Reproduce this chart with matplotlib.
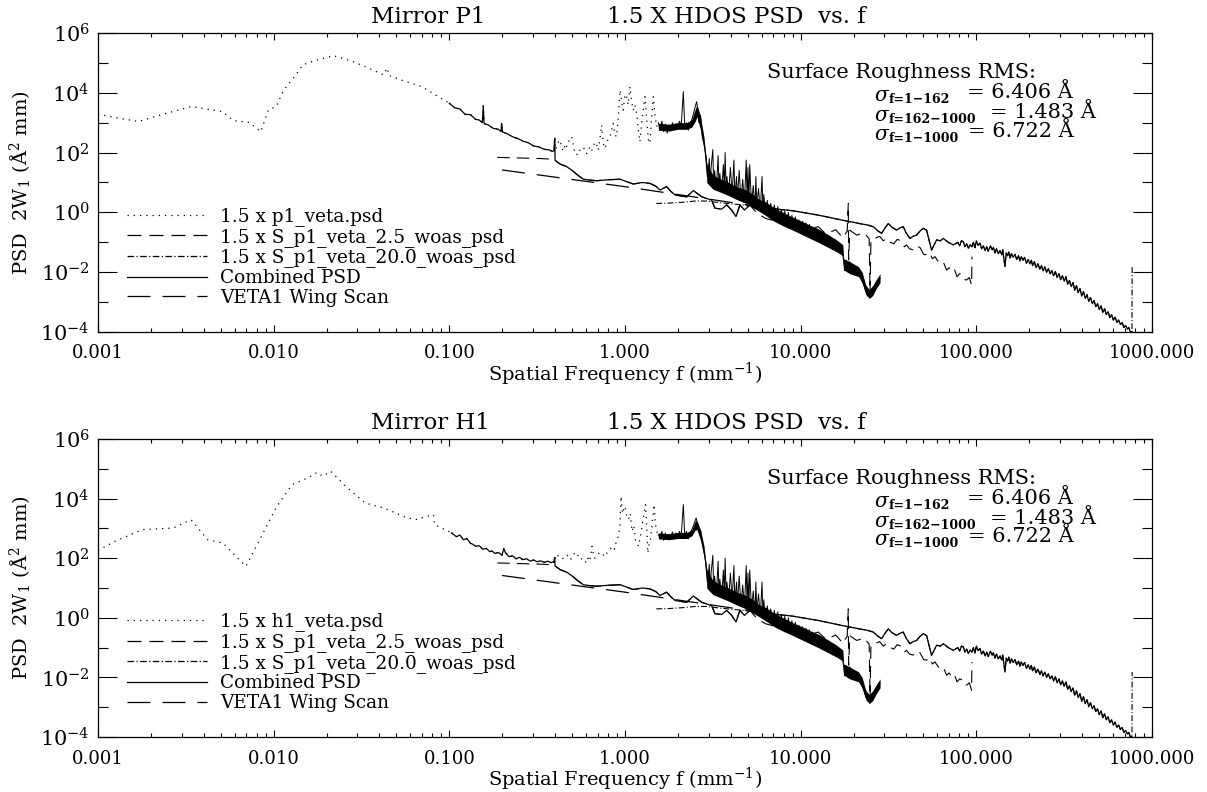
import numpy as np
import matplotlib
matplotlib.use('Agg')
import matplotlib.pyplot as plt
from matplotlib.lines import Line2D
from matplotlib.ticker import FixedLocator, FixedFormatter, NullFormatter, LogLocator

plt.rcParams['font.family'] = ['DejaVu Serif']
plt.rcParams['mathtext.fontset'] = 'dejavuserif'

# ---------------- data (log10 f, log10 PSD) ----------------
# Mirror P1 : 1.5 x p1_veta.psd
p1_low_logf = [-3.0, -2.88, -2.77, -2.62, -2.47, -2.29, -2.23, -2.14, -2.073, -2.03, -1.986, -1.942,
               -1.88, -1.833, -1.746, -1.659, -1.55, -1.45, -1.375, -1.353, -1.345, -1.26, -1.157, -1.08, -1.0]
p1_low_logpsd = [3.285, 3.15, 3.04, 3.30, 3.54, 3.37, 3.07, 3.01, 2.70, 3.43, 3.54, 4.10,
                 4.55, 4.94, 5.11, 5.24, 5.05, 4.80, 4.60, 4.83, 4.58, 4.40, 4.21, 3.93, 3.65]
p1_mid_logf = [-1.0, -0.97, -0.94, -0.91, -0.88, -0.85, -0.83, -0.812, -0.807, -0.802, -0.78, -0.75, -0.72,
               -0.706, -0.702, -0.697, -0.67, -0.64, -0.61, -0.58, -0.55, -0.52, -0.49, -0.46, -0.43,
               -0.415, -0.405, -0.400]
p1_mid_logpsd = [3.65, 3.50, 3.46, 3.28, 3.27, 3.11, 3.09, 3.00, 3.56, 2.97, 2.93, 2.81, 2.78,
                 2.70, 2.98, 2.69, 2.63, 2.53, 2.47, 2.38, 2.33, 2.22, 2.19, 2.11, 2.09,
                 2.04, 2.06, 2.48]
p1_peak_logf = [-0.400, -0.394, -0.388, -0.380, -0.370, -0.360, -0.350, -0.340, -0.332, -0.318, -0.303, -0.290,
                -0.275, -0.262, -0.247, -0.232, -0.218, -0.200, -0.190, -0.180, -0.166, -0.152, -0.142, -0.133,
                -0.124, -0.114, -0.100, -0.085, -0.076, -0.067, -0.058, -0.048, -0.038, -0.028, -0.019, -0.010,
                0.000, 0.009, 0.018, 0.028, 0.038, 0.047, 0.056, 0.066, 0.075, 0.085, 0.095, 0.105, 0.114,
                0.124, 0.133, 0.142, 0.152, 0.161, 0.170, 0.180, 0.19]
p1_peak_logpsd = [2.48, 2.10, 2.20, 2.35, 2.42, 2.15, 2.05, 2.30, 2.20, 2.40, 2.53, 2.10,
                  1.92, 2.10, 2.03, 2.15, 1.97, 2.18, 2.05, 2.25, 2.35, 2.08, 2.50, 2.92,
                  2.30, 2.14, 2.40, 2.53, 2.75, 2.98, 2.60, 2.53, 3.20, 4.09, 3.70, 3.42,
                  3.95, 3.87, 3.60, 4.20, 3.70, 3.42, 3.60, 3.31, 2.80, 2.36, 3.00, 3.50, 3.87,
                  3.10, 2.42, 2.31, 3.20, 3.87, 3.30, 2.87, 3.00]
p1_head_logf = [0.19, 0.20, 0.21, 0.22, 0.23, 0.24, 0.25, 0.26, 0.27, 0.28, 0.29, 0.30, 0.31, 0.32, 0.332,
                0.34, 0.35, 0.36, 0.37, 0.38, 0.39, 0.40, 0.408, 0.415, 0.42, 0.43, 0.44, 0.45, 0.46, 0.465]
p1_head_logpsd = [3.00, 2.75, 3.05, 2.70, 2.95, 2.65, 2.90, 2.75, 3.00, 2.80, 2.95, 2.85, 3.05, 2.90, 4.04,
                  2.85, 3.00, 2.75, 2.95, 3.10, 3.30, 3.55, 3.70, 3.40, 3.00, 3.25, 2.50, 2.30, 1.90, 1.64]
p1_band_logf = [0.19, 0.25, 0.30, 0.35, 0.38, 0.40, 0.41, 0.43, 0.45, 0.465]
p1_band_lo = [2.75, 2.72, 2.78, 2.78, 2.85, 3.05, 3.20, 2.75, 2.10, 1.10]
p1_band_hi = [2.98, 2.95, 3.00, 3.00, 3.10, 3.45, 3.60, 3.20, 2.50, 1.64]

# shared dense tail of the HDOS PSD (same in both panels)
tail_logf = [0.465, 0.47, 0.48, 0.485, 0.49, 0.50, 0.505, 0.51, 0.52, 0.53, 0.535, 0.54, 0.55, 0.56, 0.565,
             0.57, 0.575, 0.58, 0.59, 0.60, 0.61, 0.62, 0.625, 0.635, 0.64, 0.65, 0.66, 0.67, 0.68, 0.69,
             0.695, 0.70, 0.705, 0.71, 0.72, 0.73, 0.74, 0.745, 0.75, 0.76, 0.77, 0.78, 0.785, 0.79, 0.80,
             0.81, 0.82, 0.83, 0.84, 0.85, 0.86, 0.87, 0.88, 0.89, 0.90, 0.91, 0.92, 0.93, 0.94, 0.95,
             0.96, 0.97, 0.98, 0.99, 1.00, 1.01, 1.02, 1.03, 1.04, 1.05, 1.06, 1.07, 1.08, 1.09, 1.10,
             1.11, 1.12, 1.13, 1.14, 1.15, 1.16, 1.17, 1.18, 1.19, 1.20, 1.21, 1.22, 1.23, 1.24, 1.245,
             1.25, 1.26, 1.27, 1.28, 1.29, 1.30, 1.31, 1.32, 1.33, 1.34, 1.35, 1.36, 1.37, 1.38, 1.39,
             1.395, 1.40, 1.41, 1.42, 1.43, 1.44, 1.452]
tail_logpsd = [1.64, 1.20, 1.80, 0.90, 1.50, 2.10, 0.80, 1.40, 0.75, 1.90, 0.85, 1.30, 0.70, 1.60, 0.75,
               2.00, 0.90, 1.20, 0.65, 1.50, 0.60, 1.75, 0.55, 1.20, 0.45, 1.40, 0.40, 1.10, 0.35, 1.75,
               0.40, 1.50, 0.30, 1.60, 0.25, 0.90, 0.15, 1.20, 0.20, 0.80, 0.05, 1.20, 0.10, 0.60, -0.05,
               0.40, -0.15, 0.30, -0.20, 0.25, -0.25, 0.20, -0.30, 0.10, -0.40, 0.05, -0.45, 0.00, -0.50, -0.10,
               -0.55, -0.15, -0.60, -0.25, -0.70, -0.30, -0.75, -0.35, -0.80, -0.40, -0.85, -0.50, -0.90, -0.55, -0.95,
               -0.65, -1.05, -0.70, -1.10, -0.80, -1.15, -0.85, -1.25, -0.95, -1.30, -1.00, -1.35, -1.10, -1.45, -1.65,
               -1.95, -1.60, -2.00, -1.65, -2.05, -1.75, -2.05, -1.80, -2.10, -2.00, -2.30, -2.45, -2.65, -2.80, -2.70,
               -2.85, -2.75, -2.65, -2.50, -2.40, -2.30, -2.20]
tail_band_logf = [0.465, 0.50, 0.55, 0.59, 0.64, 0.69, 0.73, 0.76, 0.80, 0.85, 0.90, 0.95, 1.00, 1.05,
                  1.10, 1.15, 1.20, 1.24, 1.245, 1.28, 1.33, 1.35, 1.37, 1.39, 1.41, 1.43, 1.452]
tail_band_lo = [1.00, 0.78, 0.66, 0.56, 0.42, 0.30, 0.15, 0.05, -0.10, -0.30, -0.45, -0.58, -0.72, -0.86,
                -1.00, -1.15, -1.30, -1.45, -1.92, -2.05, -2.15, -2.35, -2.70, -2.88, -2.78, -2.55, -2.35]
tail_band_hi = [1.64, 1.25, 1.10, 1.00, 0.85, 0.75, 0.60, 0.45, 0.35, 0.15, 0.00, -0.15, -0.28, -0.42,
                -0.55, -0.72, -0.90, -1.08, -1.55, -1.65, -1.82, -2.00, -2.42, -2.58, -2.45, -2.25, -2.05]

# Mirror H1 : 1.5 x h1_veta.psd
h1_low_logf = [-3.0, -2.902, -2.748, -2.573, -2.47, -2.376, -2.289, -2.158, -2.07, -1.982, -1.895, -1.807,
               -1.753, -1.72, -1.676, -1.589, -1.479, -1.37, -1.26, -1.195, -1.09, -1.085, -0.987]
h1_low_logpsd = [2.26, 2.57, 2.96, 3.01, 3.29, 2.62, 2.51, 1.73, 2.73, 3.74, 4.47, 4.69,
                 4.88, 4.75, 4.92, 4.41, 3.85, 3.68, 3.40, 3.29, 3.46, 3.13, 2.85]
h1_mid_logf = [-0.987, -0.96, -0.94, -0.92, -0.90, -0.88, -0.867, -0.85, -0.83, -0.81, -0.79, -0.77, -0.757,
               -0.74, -0.72, -0.70, -0.69, -0.68, -0.66, -0.64, -0.62, -0.60, -0.582, -0.56, -0.54, -0.52, -0.50,
               -0.48, -0.46, -0.44, -0.42, -0.410, -0.405, -0.400]
h1_mid_logpsd = [2.85, 2.72, 2.78, 2.62, 2.66, 2.50, 2.47, 2.40, 2.42, 2.30, 2.33, 2.22, 2.24,
                 2.16, 2.19, 2.10, 2.32, 2.18, 2.05, 2.08, 1.98, 2.03, 1.95, 1.98, 1.90, 1.94, 1.88,
                 1.91, 1.86, 1.90, 1.85, 1.88, 1.86, 2.02]
h1_peak_logf = [-0.400, -0.39, -0.38, -0.37, -0.35, -0.33, -0.315, -0.30, -0.285, -0.27, -0.255, -0.24, -0.22,
                -0.21, -0.20, -0.188, -0.175, -0.16, -0.145, -0.13, -0.115, -0.10, -0.085, -0.07, -0.06, -0.05,
                -0.04, -0.03, -0.022, -0.015, -0.01, 0.00, 0.01, 0.02, 0.03, 0.04, 0.05, 0.06, 0.07, 0.077,
                0.09, 0.10, 0.117, 0.125, 0.13, 0.138, 0.145, 0.155, 0.166, 0.172, 0.18, 0.19]
h1_peak_logpsd = [2.02, 1.95, 2.10, 2.06, 1.98, 2.10, 1.95, 2.00, 2.20, 2.12, 1.95, 2.00, 1.84,
                  2.00, 1.90, 2.40, 2.00, 2.05, 2.20, 2.15, 2.05, 2.20, 2.30, 2.40, 2.30, 2.55,
                  2.70, 3.00, 4.08, 3.50, 3.60, 3.74, 3.40, 3.30, 3.50, 2.90, 3.10, 2.60, 2.50, 2.40,
                  2.80, 3.20, 3.80, 2.90, 2.17, 2.50, 2.60, 3.20, 3.80, 3.20, 2.90, 2.80]
h1_head_logf = [0.19, 0.20, 0.21, 0.22, 0.23, 0.24, 0.25, 0.26, 0.27, 0.28, 0.29, 0.30, 0.31, 0.32, 0.332,
                0.34, 0.35, 0.36, 0.37, 0.38, 0.39, 0.405, 0.415, 0.42, 0.43, 0.44, 0.45, 0.46, 0.465]
h1_head_logpsd = [2.80, 2.65, 2.90, 2.60, 2.85, 2.62, 2.80, 2.70, 2.88, 2.65, 2.85, 2.70, 2.90, 2.75, 3.80,
                  2.75, 2.90, 2.65, 2.85, 2.95, 3.10, 3.35, 3.10, 2.85, 2.95, 2.51, 2.20, 1.85, 1.62]
h1_band_logf = [0.19, 0.25, 0.30, 0.35, 0.38, 0.40, 0.41, 0.43, 0.45, 0.465]
h1_band_lo = [2.65, 2.62, 2.66, 2.66, 2.75, 2.95, 2.95, 2.60, 2.05, 1.10]
h1_band_hi = [2.85, 2.82, 2.86, 2.86, 2.95, 3.25, 3.25, 2.95, 2.40, 1.62]

# 1.5 x S_p1_veta_2.5_woas_psd
s25_logf = [-0.727, -0.66, -0.60, -0.54, -0.48, -0.41, -0.398, -0.37, -0.332, -0.30, -0.27, -0.237, -0.20,
            -0.161, -0.10, -0.028, 0.047, 0.10, 0.142, 0.175, 0.199, 0.237, 0.262, 0.285, 0.351, 0.389,
            0.437, 0.493, 0.512, 0.550, 0.579, 0.607, 0.632, 0.654, 0.68, 0.711, 0.75, 0.80, 0.85, 0.90,
            0.95, 1.00, 1.05, 1.10, 1.14, 1.167, 1.20, 1.24, 1.265, 1.271, 1.273, 1.28, 1.319, 1.36, 1.39,
            1.395, 1.40, 1.45, 1.47, 1.489, 1.51, 1.53, 1.55, 1.57, 1.59, 1.603, 1.62, 1.64, 1.66, 1.68,
            1.70, 1.717, 1.735, 1.75, 1.765, 1.78, 1.80, 1.815, 1.831, 1.845, 1.86, 1.875, 1.89, 1.905,
            1.92, 1.935, 1.945, 1.96, 1.973, 1.975]
s25_logpsd = [1.84, 1.83, 1.82, 1.81, 1.80, 1.78, 1.74, 1.62, 1.53, 1.40, 1.25, 1.11, 1.08,
              1.06, 1.09, 1.11, 0.95, 1.00, 0.97, 0.88, 0.75, 0.86, 0.70, 0.58, 0.52, 0.73,
              0.52, 0.41, 0.14, 0.11, 0.25, 0.08, -0.14, 0.25, 0.08, 0.25, -0.02, -0.20, -0.28, -0.22,
              -0.45, -0.38, -0.55, -0.48, -0.70, -0.66, -0.58, -0.85, -0.62, 0.30, -1.59, -0.60, -0.76, -0.68, -0.88,
              -2.70, -0.92, -0.80, -0.95, -0.87, -1.00, -1.05, -0.90, -0.95, -1.15, -1.09, -1.22, -1.25, -1.12, -1.18,
              -1.40, -1.42, -1.35, -1.55, -1.48, -1.62, -1.75, -1.70, -1.93, -1.85, -1.97, -1.90, -2.15, -2.05,
              -2.08, -2.25, -2.26, -2.18, -2.43, -1.48]

# 1.5 x S_p1_veta_20.0_woas_psd
s20_logf = [0.178, 0.25, 0.33, 0.40, 0.464, 0.55, 0.62, 0.673, 0.72, 0.76, 0.80, 0.84, 0.88, 0.920, 0.96,
            1.00, 1.05, 1.10, 1.14, 1.186, 1.23, 1.27, 1.30, 1.34, 1.38, 1.414, 1.440, 1.461, 1.480, 1.499,
            1.520, 1.546, 1.565, 1.584, 1.600, 1.622, 1.640, 1.660, 1.680, 1.698, 1.717, 1.745, 1.774, 1.795,
            1.812, 1.840, 1.869, 1.895, 1.905, 1.915, 1.926, 1.935, 1.945, 1.955, 1.965, 1.975, 1.983, 1.992,
            2.000, 2.010, 2.021, 2.030, 2.040, 2.050, 2.059, 2.068, 2.080, 2.090, 2.097, 2.106, 2.115, 2.125,
            2.135, 2.145, 2.150, 2.163, 2.170, 2.178, 2.185, 2.192, 2.200, 2.210, 2.220, 2.230, 2.240, 2.248,
            2.256, 2.265, 2.275, 2.285, 2.295, 2.305, 2.313, 2.320, 2.330, 2.340, 2.350, 2.362, 2.371, 2.380,
            2.390, 2.400, 2.410, 2.420, 2.430, 2.440, 2.450, 2.460, 2.470, 2.480, 2.490, 2.500, 2.510, 2.520,
            2.530, 2.540, 2.550, 2.560, 2.570, 2.580, 2.590, 2.600, 2.610, 2.620, 2.630, 2.640, 2.650, 2.660,
            2.670, 2.680, 2.690, 2.700, 2.710, 2.720, 2.730, 2.740, 2.750, 2.760, 2.770, 2.780, 2.790, 2.800,
            2.810, 2.820, 2.830, 2.840, 2.850, 2.860, 2.868, 2.875, 2.886, 2.887]
s20_logpsd = [0.30, 0.31, 0.34, 0.38, 0.38, 0.32, 0.28, 0.25, 0.22, 0.21, 0.16, 0.14, 0.10, 0.08, 0.05,
              0.01, -0.04, -0.09, -0.14, -0.20, -0.25, -0.30, -0.33, -0.38, -0.42, -0.48, -0.62, -0.70, -0.52, -0.37,
              -0.50, -0.59, -0.52, -0.48, -0.68, -0.87, -0.80, -0.76, -0.62, -0.53, -0.60, -1.26, -0.92, -0.95,
              -0.87, -1.00, -1.09, -1.00, -1.12, -0.95, -0.98, -1.15, -1.05, -1.20, -1.08, -1.15, -1.00, -1.18,
              -0.95, -1.10, -1.03, -1.22, -1.12, -1.28, -1.15, -1.30, -1.12, -1.25, -1.17, -1.35, -1.22, -1.38,
              -1.28, -1.42, -1.25, -1.82, -1.35, -1.45, -1.32, -1.52, -1.38, -1.50, -1.40, -1.58, -1.45, -1.62,
              -1.48, -1.60, -1.50, -1.70, -1.58, -1.72, -1.60, -1.78, -1.65, -1.85, -1.72, -1.90, -1.78, -1.95,
              -1.82, -2.00, -1.88, -2.05, -1.95, -2.12, -1.98, -2.18, -2.05, -2.25, -2.12, -2.30, -2.15, -2.40,
              -2.28, -2.48, -2.35, -2.60, -2.45, -2.68, -2.55, -2.80, -2.65, -2.88, -2.75, -2.98, -2.85, -3.05,
              -2.95, -3.15, -3.05, -3.25, -3.12, -3.35, -3.22, -3.42, -3.32, -3.52, -3.42, -3.60, -3.50, -3.68,
              -3.60, -3.75, -3.68, -3.85, -3.78, -3.90, -3.85, -3.98, -3.99, -1.82]

# VETA1 Wing Scan
veta_logf = [-0.70, 0.0, 0.70]
veta_logpsd = [1.42, 0.86, 0.25]

xtick_values = [0.001, 0.01, 0.1, 1.0, 10.0, 100.0, 1000.0]
xtick_labels = ['0.001', '0.010', '0.100', '1.000', '10.000', '100.000', '1000.000']
ytick_values = [1e-4, 1e-2, 1e0, 1e2, 1e4, 1e6]
ytick_labels = [r'$10^{-4}$', r'$10^{-2}$', r'$10^{0}$', r'$10^{2}$', r'$10^{4}$', r'$10^{6}$']
yminor_values = [1e-3, 1e-1, 1e1, 1e3, 1e5]

legend_common = ['1.5 x S_p1_veta_2.5_woas_psd', '1.5 x S_p1_veta_20.0_woas_psd',
                 'Combined PSD', 'VETA1 Wing Scan']
rms_subs = ['f=1\u2212162', 'f=162\u22121000', 'f=1\u22121000']
rms_values = ['= 6.406 Å', '= 1.483 Å', '= 6.722 Å']

# ---------------- styles ----------------
DOT = (0, (1.0, 4.0))
DASH = (0, (11.2, 6.4))
DASHDOT = (0, (5.3, 1.9, 1.0, 1.9))
LONGDASH = (0, (18.4, 9.6))
LW = 0.9

# layout helpers (pixel -> axes fraction); axes span x 98..1152, y 33..332 px
AX_W = 1054.0
AX_H = 299.0


def fx(px):
    return (px - 98.0) / AX_W


def fy(py):
    return (332.0 - py) / AX_H


def P(a):
    return 10.0 ** np.asarray(a, dtype=float)


def draw_panel(ax, mirror, low, mid, peak, head, band, first_label):
    lf_low, lp_low = low
    lf_mid, lp_mid = mid
    lf_pk, lp_pk = peak
    lf_hd, lp_hd = head
    bf, blo, bhi = band

    # HDOS PSD (dotted data; the densely sampled parts appear solid black)
    ax.plot(P(lf_low), P(lp_low), color='k', lw=LW, ls=DOT)
    ax.plot(P(lf_mid), P(lp_mid), color='k', lw=LW, ls=DOT)
    ax.plot(P(lf_pk), P(lp_pk), color='k', lw=LW, ls=DOT)
    ax.plot(P(lf_hd), P(lp_hd), color='k', lw=0.7, ls='-')
    ax.fill_between(P(bf), P(blo), P(bhi), color='k', lw=0)
    ax.plot(P(tail_logf), P(tail_logpsd), color='k', lw=0.7, ls='-')
    ax.fill_between(P(tail_band_logf), P(tail_band_lo), P(tail_band_hi), color='k', lw=0)

    # S 2.5 and 20.0
    ax.plot(P(s25_logf), P(s25_logpsd), color='k', lw=0.8, ls=DASH)
    ax.plot(P(s20_logf), P(s20_logpsd), color='k', lw=0.8, ls=DASHDOT)

    # combined PSD
    s25f = np.asarray(s25_logf); s25p = np.asarray(s25_logpsd)
    s20f = np.asarray(s20_logf)[:-1]; s20p = np.asarray(s20_logpsd)[:-1]
    m25 = (s25f >= -0.399) & (s25f <= 0.711)
    m20 = s20f > 0.711
    comb_f = np.concatenate([lf_mid, s25f[m25], s20f[m20]])
    comb_p = np.concatenate([lp_mid, s25p[m25], s20p[m20]])
    ax.plot(P(comb_f), P(comb_p), color='k', lw=LW, ls='-')

    # VETA1 wing scan
    ax.plot(P(veta_logf), P(veta_logpsd), color='k', lw=LW, ls=LONGDASH)

    ax.set_xscale('log')
    ax.set_yscale('log')
    ax.set_xlim(1e-3, 1e3)
    ax.set_ylim(1e-4, 1e6)

    ax.xaxis.set_major_locator(FixedLocator(xtick_values))
    ax.xaxis.set_major_formatter(FixedFormatter(xtick_labels))
    ax.xaxis.set_minor_locator(LogLocator(base=10, subs=np.arange(2, 10), numticks=50))
    ax.xaxis.set_minor_formatter(NullFormatter())
    ax.yaxis.set_major_locator(FixedLocator(ytick_values))
    ax.yaxis.set_major_formatter(FixedFormatter(ytick_labels))
    ax.yaxis.set_minor_locator(FixedLocator(yminor_values))
    ax.yaxis.set_minor_formatter(NullFormatter())

    ax.tick_params(axis='x', which='major', direction='in', length=5, width=0.8, top=True,
                   labelsize=13, pad=9)
    ax.tick_params(axis='x', which='minor', direction='in', length=2.6, width=0.8, top=True)
    ax.tick_params(axis='y', which='major', direction='in', length=14, width=0.8, right=True,
                   labelsize=15, pad=6)
    ax.tick_params(axis='y', which='minor', direction='in', length=7, width=0.8, right=True)
    for s in ax.spines.values():
        s.set_linewidth(0.9)

    ax.set_xlabel(r'Spatial Frequency f (mm$^{-1}$)', fontsize=14, labelpad=-1.5)
    ax.set_ylabel(r'PSD  2W$_1$ (Å$^2$ mm)', fontsize=14, labelpad=5)

    ax.text(fx(371), fy(23), 'Mirror ' + mirror, transform=ax.transAxes, fontsize=16.5, va='baseline')
    ax.text(fx(607), fy(23), '1.5 X HDOS PSD  vs. f', transform=ax.transAxes, fontsize=16.5,
            va='baseline')

    ax.text(fx(767), fy(78), 'Surface Roughness RMS:', transform=ax.transAxes, fontsize=15,
            va='baseline')
    for sub, val, yb, xv in zip(rms_subs, rms_values, [98.3, 118.3, 136.7], [967, 990, 968]):
        ax.text(fx(874), fy(yb + 3), r'$\sigma$', transform=ax.transAxes, fontsize=14.5, va='baseline')
        ax.text(fx(889), fy(yb + 5), sub, transform=ax.transAxes, fontsize=9, fontweight='bold',
                va='baseline')
        ax.text(fx(xv), fy(yb), val, transform=ax.transAxes, fontsize=15, va='baseline')

    handles = [Line2D([], [], color='k', lw=LW, ls=DOT),
               Line2D([], [], color='k', lw=LW, ls=DASH),
               Line2D([], [], color='k', lw=LW, ls=DASHDOT),
               Line2D([], [], color='k', lw=LW, ls='-'),
               Line2D([], [], color='k', lw=LW, ls=LONGDASH)]
    labels = [first_label] + legend_common
    ax.legend(handles, labels, loc='upper left', bbox_to_anchor=(fx(126.7), fy(207)), frameon=False,
              fontsize=13.3, handlelength=4.33, handletextpad=0.72, labelspacing=0.094,
              borderpad=0.0, borderaxespad=0.0)


fig = plt.figure(figsize=(12.07, 7.92), dpi=100)
ax_top = fig.add_axes([98 / 1207, 1 - 332 / 792, AX_W / 1207, AX_H / 792])
ax_bot = fig.add_axes([98 / 1207, 1 - 737 / 792, AX_W / 1207, 298 / 792])

draw_panel(ax_top, 'P1', (p1_low_logf, p1_low_logpsd), (p1_mid_logf, p1_mid_logpsd),
           (p1_peak_logf, p1_peak_logpsd), (p1_head_logf, p1_head_logpsd),
           (p1_band_logf, p1_band_lo, p1_band_hi), '1.5 x p1_veta.psd')
draw_panel(ax_bot, 'H1', (h1_low_logf, h1_low_logpsd), (h1_mid_logf, h1_mid_logpsd),
           (h1_peak_logf, h1_peak_logpsd), (h1_head_logf, h1_head_logpsd),
           (h1_band_logf, h1_band_lo, h1_band_hi), '1.5 x h1_veta.psd')

fig.savefig('out.png', dpi=100)
